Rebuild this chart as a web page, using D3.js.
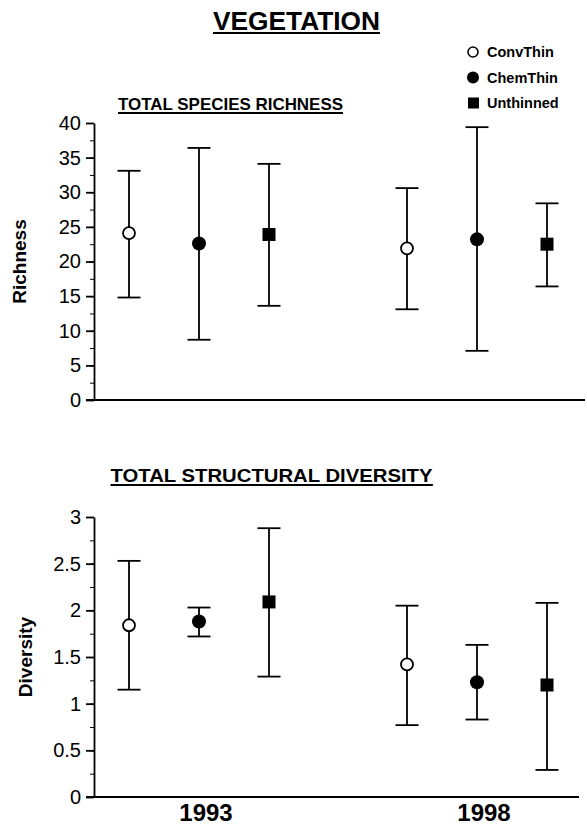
<html>
<head>
<script src="https://d3js.org/d3.v7.min.js"></script>
<style>
body { margin: 0; background: #fff; }
svg { font-family: 'Liberation Sans', Arial, sans-serif; }
</style>
</head>
<body>
<div id="chart"></div>
<script>

// groups along x, in the order the marks are drawn
var years = ["1993", "1998"];
var treatments = ["ConvThin", "ChemThin", "Unthinned"];

// total species richness: mean and error bar ends (1993 x3, then 1998 x3)
var richMean = [24.1, 22.6, 23.9, 21.9, 23.2, 22.5];
var richLow  = [14.8, 8.7, 13.6, 13.1, 7.1, 16.4];
var richHigh = [33.1, 36.4, 34.1, 30.6, 39.4, 28.4];

// total structural diversity
var divMean = [1.84, 1.88, 2.09, 1.42, 1.23, 1.20];
var divLow  = [1.15, 1.72, 1.29, 0.77, 0.83, 0.29];
var divHigh = [2.53, 2.03, 2.88, 2.05, 1.63, 2.08];

var richTicks = [0, 5, 10, 15, 20, 25, 30, 35, 40];
var divTicks = [0, 0.5, 1, 1.5, 2, 2.5, 3];

var svg = d3.select("#chart").append("svg")
  .attr("width", 587).attr("height", 828);

var x0 = d3.scalePoint().domain(years).range([199, 477]);
var x1 = d3.scalePoint().domain(treatments).range([-70, 70]);

function rows(mean, low, high) {
  var out = [];
  years.forEach(function(y, i) {
    treatments.forEach(function(t, j) {
      var k = i * 3 + j;
      out.push({ year: y, treat: t, mean: mean[k], low: low[k], high: high[k] });
    });
  });
  return out;
}

// underlined bold text (w = width to stretch to, optional)
function heading(x, y, size, txt, w) {
  var t = svg.append("text")
    .attr("x", x).attr("y", y)
    .attr("text-anchor", "middle")
    .style("font-size", size + "px")
    .style("font-weight", "bold")
    .text(txt);
  if (w) t.attr("textLength", w).attr("lengthAdjust", "spacingAndGlyphs");
  var b = t.node().getBBox();
  svg.append("line")
    .attr("x1", b.x).attr("x2", b.x + b.width)
    .attr("y1", y + 3).attr("y2", y + 3)
    .attr("stroke", "#000").attr("stroke-width", 1.8);
}

function drawMarker(g, treat, cx, cy) {
  if (treat == "Unthinned") {
    g.append("rect").attr("x", cx - 6.5).attr("y", cy - 6.5)
      .attr("width", 13).attr("height", 13).attr("fill", "#000");
  } else if (treat == "ChemThin") {
    g.append("circle").attr("cx", cx).attr("cy", cy).attr("r", 7).attr("fill", "#000");
  } else {
    g.append("circle").attr("cx", cx).attr("cy", cy).attr("r", 6)
      .attr("fill", "#fff").attr("stroke", "#000").attr("stroke-width", 1.8);
  }
}

function panel(data, y, ticks, step, xEnd, ylabel, labelX) {
  var g = svg.append("g");

  // minor ticks
  var minor = d3.range(ticks[0], ticks[ticks.length - 1] + step / 4, step / 2);
  g.append("g").attr("transform", "translate(94,0)")
    .call(d3.axisLeft(y).tickValues(minor).tickSize(4).tickFormat(""))
    .call(function(a) { a.select(".domain").remove(); });

  var ax = g.append("g").attr("transform", "translate(94,0)")
    .call(d3.axisLeft(y).tickValues(ticks).tickSize(8).tickSizeOuter(0)
      .tickPadding(5).tickFormat(d3.format("~g")));
  ax.selectAll("text").style("font-size", "20px").attr("fill", "#000");
  ax.selectAll("line, path").attr("stroke", "#000").attr("stroke-width", 1.8);

  // x axis line
  g.append("line")
    .attr("x1", 86).attr("x2", xEnd)
    .attr("y1", y(0)).attr("y2", y(0))
    .attr("stroke", "#000").attr("stroke-width", 1.8);

  g.append("text")
    .attr("transform", "translate(" + labelX + "," + d3.mean(y.range()) + ") rotate(-90)")
    .attr("text-anchor", "middle")
    .style("font-size", "19px").style("font-weight", "bold")
    .text(ylabel);

  data.forEach(function(d) {
    var cx = x0(d.year) + x1(d.treat);
    g.append("line").attr("x1", cx).attr("x2", cx)
      .attr("y1", y(d.high)).attr("y2", y(d.low))
      .attr("stroke", "#000").attr("stroke-width", 1.8);
    [d.high, d.low].forEach(function(v) {
      g.append("line").attr("x1", cx - 11.5).attr("x2", cx + 11.5)
        .attr("y1", y(v)).attr("y2", y(v))
        .attr("stroke", "#000").attr("stroke-width", 1.8);
    });
    drawMarker(g, d.treat, cx, y(d.mean));
  });
}

var yRich = d3.scaleLinear().domain([0, 40]).range([400, 123]);
var yDiv = d3.scaleLinear().domain([0, 3]).range([797, 517]);

panel(rows(richMean, richLow, richHigh), yRich, richTicks, 5, 585, "Richness", 26);
panel(rows(divMean, divLow, divHigh), yDiv, divTicks, 0.5, 579, "Diversity", 32);

heading(296.5, 30, 25, "VEGETATION", 167);
heading(230.5, 110, 17, "TOTAL SPECIES RICHNESS", 225);
heading(271.5, 482, 17.5, "TOTAL STRUCTURAL DIVERSITY", 322);

// year labels
svg.selectAll(".year").data(years).enter().append("text")
  .attr("class", "year")
  .attr("x", function(d) { return x0(d) + 7; })
  .attr("y", 821)
  .attr("text-anchor", "middle")
  .style("font-size", "24px").style("font-weight", "bold")
  .text(function(d) { return d; });

// legend
var leg = svg.selectAll(".leg").data(treatments).enter().append("g")
  .attr("class", "leg");
leg.each(function(t, i) {
  var gy = 52 + i * 25.5;
  var g = d3.select(this);
  if (t == "Unthinned") {
    g.append("rect").attr("x", 468).attr("y", gy - 5.5).attr("width", 11).attr("height", 11).attr("fill", "#000");
  } else if (t == "ChemThin") {
    g.append("circle").attr("cx", 473).attr("cy", gy).attr("r", 6).attr("fill", "#000");
  } else {
    g.append("circle").attr("cx", 473).attr("cy", gy).attr("r", 5)
      .attr("fill", "#fff").attr("stroke", "#000").attr("stroke-width", 1.6);
  }
  g.append("text").attr("x", 487).attr("y", gy + 5)
    .style("font-size", "14.5px").style("font-weight", "bold")
    .text(t);
});

</script>
</body>
</html>
